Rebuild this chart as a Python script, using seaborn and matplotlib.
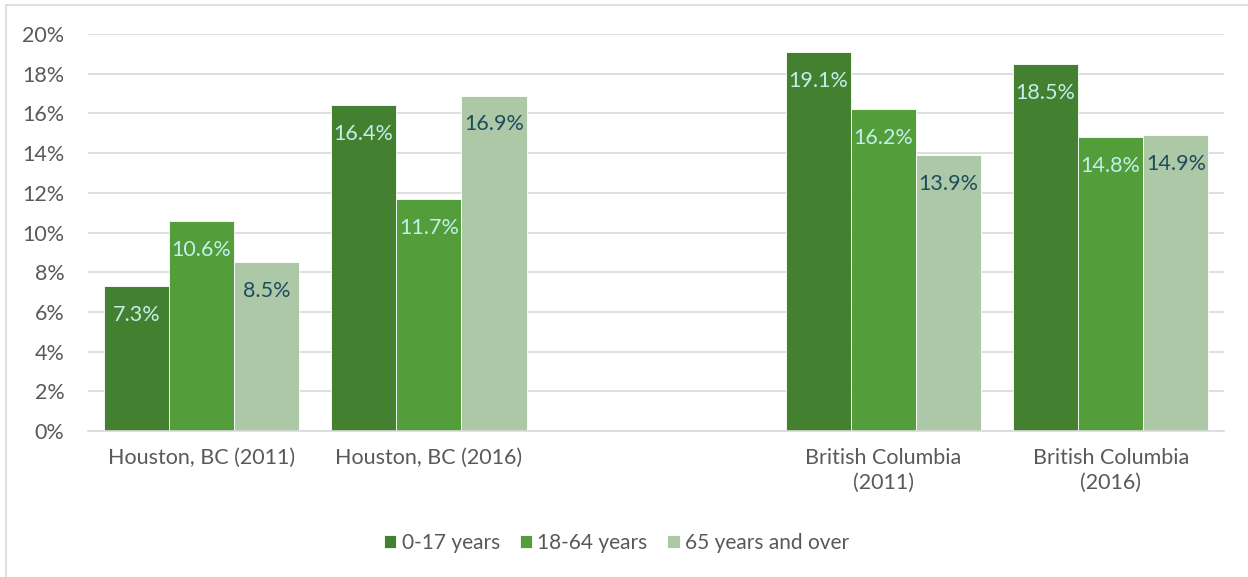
import numpy as np
import pandas as pd
import seaborn as sns
import matplotlib.pyplot as plt
from matplotlib.patches import Rectangle

# data
places = ["Houston, BC (2011)", "Houston, BC (2016)", "British Columbia\n(2011)", "British Columbia\n(2016)"]
age_groups = ["0-17 years", "18-64 years", "65 years and over"]
age_0_17 = [7.3, 16.4, 19.1, 18.5]
age_18_64 = [10.6, 11.7, 16.2, 14.8]
age_65_over = [8.5, 16.9, 13.9, 14.9]
y_ticks = [0, 2, 4, 6, 8, 10, 12, 14, 16, 18, 20]

colors = ["#43802F", "#539D3A", "#ADC8A6"]
label_colors = ["#C4EEEE", "#C4EEEE", "#1D4D5C"]

# an empty slot sits between the Houston and BC groups
order = places[:2] + [" "] + places[2:]

df = pd.DataFrame({
    "place": places * 3,
    "group": np.repeat(age_groups, len(places)),
    "value": age_0_17 + age_18_64 + age_65_over,
})

sns.set_style("white")
plt.rcParams["font.family"] = ["Lato", "DejaVu Sans"]
fs = 15.5

fig = plt.figure(figsize=(12.48, 5.77), dpi=100)
ax = fig.add_axes([0.0705, 0.253, 0.9105, 0.688])

sns.barplot(data=df, x="place", y="value", hue="group", order=order,
            hue_order=age_groups, palette=colors, saturation=1,
            width=0.86, gap=0, edgecolor="white", linewidth=0.6,
            ax=ax, legend=True)

for cont, col in zip(ax.containers, label_colors):
    ax.bar_label(cont, labels=[f"{v:.1f}%" for v in cont.datavalues],
                 padding=-28, color=col, fontsize=fs)

ax.set_ylim(0, 20)
ax.set_yticks(y_ticks)
ax.set_yticklabels([f"{t}%" for t in y_ticks])
ax.set_xlim(-0.5, len(order) - 0.5)
ax.yaxis.grid(True, color="#D9D9D9", linewidth=1.2)
ax.set_axisbelow(True)
ax.set_xlabel("")
ax.set_ylabel("")
ax.tick_params(axis="y", length=0, pad=17, labelsize=fs, labelcolor="#595959")
ax.tick_params(axis="x", length=0, pad=12, labelsize=fs, labelcolor="#595959")
for lab in ax.get_xticklabels():
    lab.set_linespacing(1.3)
sns.despine(ax=ax, left=True, top=True, right=True)
ax.spines["bottom"].set_color("#D9D9D9")
ax.spines["bottom"].set_linewidth(1.2)

handles, labels = ax.get_legend_handles_labels()
ax.legend(handles, labels, loc="center", bbox_to_anchor=(0.494, 0.059),
          bbox_transform=fig.transFigure, ncol=3, frameon=False,
          fontsize=15, handlelength=0.6, handleheight=0.6,
          handletextpad=0.25, columnspacing=0.95, labelcolor="#595959")

# chart frame
fig.patches.append(Rectangle((6 / 1248, -0.05), 1.2, 0.991 + 0.05,
                             transform=fig.transFigure, fill=False,
                             edgecolor="#D9D9D9", linewidth=1.2))

fig.savefig("out.png", dpi=100)
